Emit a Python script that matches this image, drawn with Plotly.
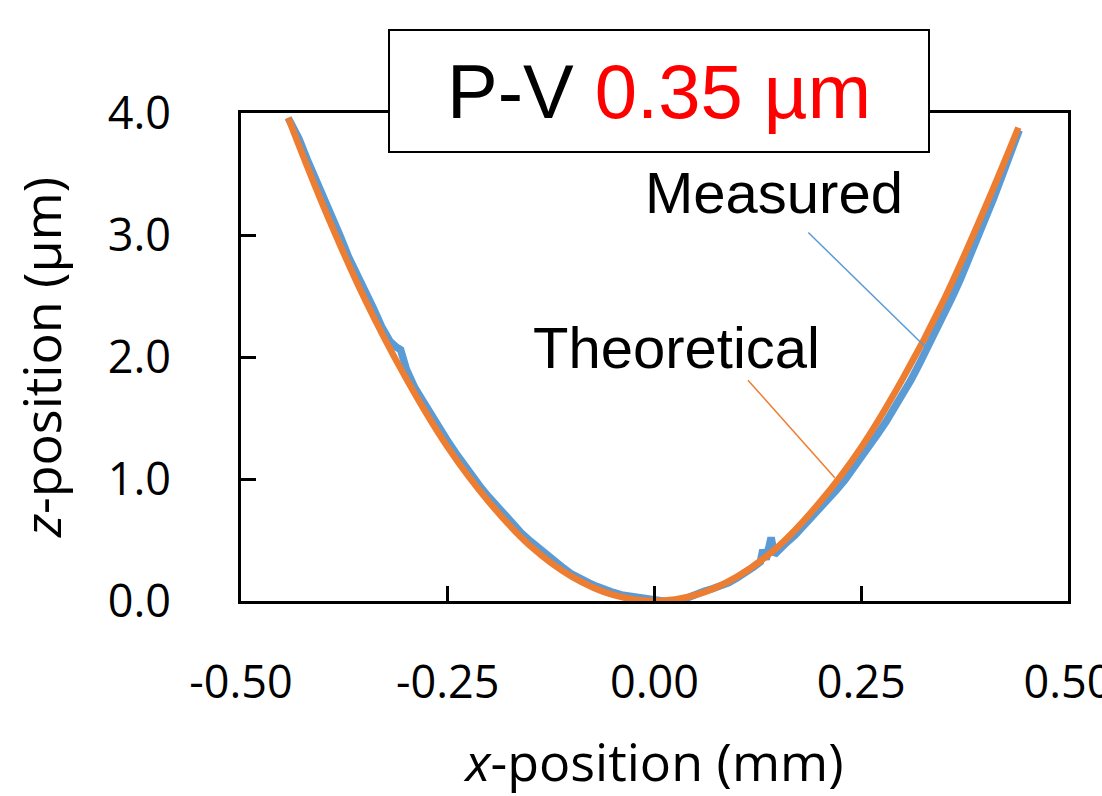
import plotly.graph_objects as go

# Theoretical profile (x in mm, z in µm)
theo_x = [-0.443, -0.40, -0.35, -0.30, -0.25, -0.20, -0.15, -0.10, -0.05, 0.00,
          0.05, 0.10, 0.15, 0.20, 0.25, 0.30, 0.35, 0.40, 0.440]
theo_z = [3.96, 3.23, 2.47, 1.82, 1.26, 0.81, 0.45, 0.20, 0.05, 0.00,
          0.05, 0.20, 0.45, 0.81, 1.26, 1.82, 2.47, 3.23, 3.88]

# Measured profile
meas_x = [-0.443, -0.435, -0.43, -0.42, -0.41, -0.40, -0.39, -0.38, -0.37, -0.36, -0.35,
          -0.34, -0.33, -0.32, -0.312, -0.307, -0.30, -0.29, -0.28, -0.27, -0.26,
          -0.25, -0.24, -0.23, -0.22, -0.21, -0.20, -0.19, -0.18, -0.17, -0.16,
          -0.15, -0.14, -0.13, -0.12, -0.11, -0.10, -0.09, -0.08, -0.07, -0.06,
          -0.05, -0.04, -0.03, -0.02, -0.01, 0.00, 0.01, 0.02, 0.03, 0.04,
          0.05, 0.06, 0.07, 0.08, 0.09, 0.10, 0.11, 0.12, 0.128, 0.131,
          0.135, 0.141, 0.145, 0.15, 0.16, 0.17, 0.18, 0.19, 0.20, 0.21,
          0.22, 0.23, 0.24, 0.25, 0.26, 0.27, 0.28, 0.29, 0.30, 0.31,
          0.32, 0.33, 0.34, 0.35, 0.36, 0.37, 0.38, 0.39, 0.40, 0.41,
          0.42, 0.43, 0.441]
meas_z = [3.96, 3.86, 3.79, 3.62, 3.47, 3.29, 3.14, 2.99, 2.82, 2.69, 2.53,
          2.40, 2.25, 2.13, 2.08, 2.06, 1.90, 1.75, 1.64, 1.52, 1.42,
          1.31, 1.21, 1.11, 1.03, 0.93, 0.85, 0.77, 0.69, 0.62, 0.55,
          0.49, 0.43, 0.37, 0.32, 0.27, 0.22, 0.18, 0.15, 0.12, 0.09,
          0.07, 0.05, 0.04, 0.03, 0.02, 0.01, 0.00, -0.01, 0.00, 0.03,
          0.05, 0.08, 0.10, 0.12, 0.15, 0.19, 0.23, 0.28, 0.32, 0.42,
          0.34, 0.52, 0.38, 0.42, 0.48, 0.54, 0.61, 0.68, 0.75, 0.83,
          0.91, 0.99, 1.08, 1.17, 1.27, 1.37, 1.47, 1.58, 1.69, 1.81,
          1.94, 2.07, 2.20, 2.34, 2.49, 2.64, 2.80, 2.96, 3.13, 3.30,
          3.48, 3.67, 3.86]

x_ticks = [-0.50, -0.25, 0.00, 0.25, 0.50]
x_tick_text = ["-0.50", "-0.25", "0.00", "0.25", "0.50"]
y_ticks = [0.0, 1.0, 2.0, 3.0, 4.0]
y_tick_text = ["0.0", "1.0", "2.0", "3.0", "4.0"]

BLUE = "#5B9BD5"
ORANGE = "#ED7D31"
TICK_FONT = dict(family="Open Sans", size=45, color="black")
TITLE_FONT = dict(family="Open Sans", size=52, color="black")
LABEL_FONT = dict(family="Liberation Sans, Arial", size=58, color="black")

fig = go.Figure()
fig.add_trace(go.Scatter(x=meas_x, y=meas_z, mode="lines", name="Measured",
                         line=dict(color=BLUE, width=7.5)))
fig.add_trace(go.Scatter(x=theo_x, y=theo_z, mode="lines", name="Theoretical",
                         line=dict(color=ORANGE, width=6.5, shape="spline")))

# Leader lines for the series labels
fig.add_shape(type="line", x0=0.186, y0=3.02, x1=0.331, y1=2.06,
              line=dict(color=BLUE, width=1.5))
fig.add_shape(type="line", x0=0.113, y0=1.81, x1=0.218, y1=1.01,
              line=dict(color=ORANGE, width=1.5))

fig.add_annotation(x=0.145, y=3.35, text="Measured", showarrow=False,
                   xanchor="center", yanchor="middle", font=LABEL_FONT)
fig.add_annotation(x=0.027, y=2.08, text="Theoretical", showarrow=False,
                   xanchor="center", yanchor="middle", font=LABEL_FONT)

# Peak-to-valley box
fig.add_annotation(xref="paper", yref="paper", x=0.506, y=1.046,
                   xanchor="center", yanchor="middle", showarrow=False,
                   text="P-V <span style='color:#FF0000'>0.35 µm</span>",
                   font=dict(family="Liberation Sans, Arial", size=76, color="black"),
                   bgcolor="white", bordercolor="black", borderwidth=2,
                   borderpad=0, width=538, height=120)

axis_common = dict(showline=True, linecolor="black", linewidth=3, mirror=True,
                   ticks="inside", ticklen=15, tickwidth=3, tickcolor="black",
                   showgrid=False, zeroline=False, automargin=False,
                   tickfont=TICK_FONT, ticklabeloverflow="allow")

fig.update_xaxes(range=[-0.5, 0.5], tickvals=x_ticks, ticktext=x_tick_text,
                 ticklabelstandoff=40,
                 title=dict(text="<i>x</i>-position (mm)", font=TITLE_FONT, standoff=40),
                 **axis_common)
fig.update_yaxes(range=[0, 4.0], tickvals=y_ticks, ticktext=y_tick_text,
                 ticklabelstandoff=58,
                 title=dict(text="<i>z</i>-position (µm)", font=TITLE_FONT, standoff=30),
                 **axis_common)

fig.update_layout(width=1102, height=796, template="none",
                  paper_bgcolor="white", plot_bgcolor="white",
                  showlegend=False,
                  margin=dict(l=241, r=34, t=113, b=195))

fig.write_html("out.html")
